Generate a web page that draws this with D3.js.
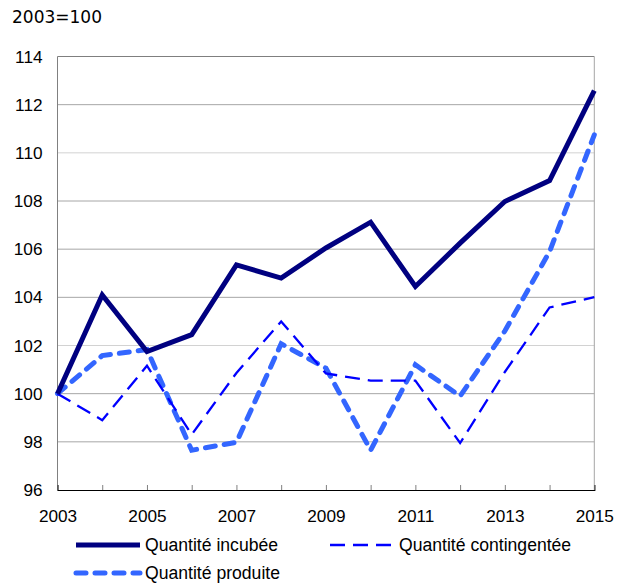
<!DOCTYPE html>
<html><head><meta charset="utf-8">
<script src="https://cdn.jsdelivr.net/npm/d3@7"></script>
<style>body{margin:0;background:#fff}svg{display:block}</style>
</head><body>
<script>
const years = [2003,2004,2005,2006,2007,2008,2009,2010,2011,2012,2013,2014,2015];
const incubee = [100,104.1,101.75,102.45,105.35,104.8,106.05,107.12,104.45,106.25,107.98,108.85,112.58];
const contingentee = [100,98.9,101.16,98.3,100.86,103.0,100.84,100.54,100.54,97.95,100.9,103.58,104.01];
const produite = [100,101.58,101.83,97.65,97.98,102.07,101.06,97.65,101.2,99.9,102.6,105.9,110.75];
const yTicks = [96,98,100,102,104,106,108,110,112,114];
const xTickLabels = [2003,2005,2007,2009,2011,2013,2015];
const seriesNames = ["Quantité incubée","Quantité contingentée","Quantité produite"];
const unitLabel = "2003=100";

const W=624,H=584;
const svg=d3.select("body").append("svg").attr("width",W).attr("height",H);
const x=d3.scaleLinear().domain([2003,2015]).range([57.5,594.3]);
const y=d3.scaleLinear().domain([96,114]).range([490,56.5]);

const lightGrid = new Set([102,110]);
svg.append("g").selectAll("line").data(yTicks.filter(v=>v>96&&v<114)).join("line")
  .attr("x1",x(2003)).attr("x2",x(2015)).attr("y1",d=>y(d)).attr("y2",d=>y(d))
  .attr("stroke",d=>lightGrid.has(d)?"#d2d2d2":"#a6a6a6").attr("stroke-width",1);
svg.append("line").attr("x1",x(2003)).attr("x2",x(2015)).attr("y1",y(114)).attr("y2",y(114)).attr("stroke","#7f7f7f");
svg.append("line").attr("x1",x(2015)).attr("x2",x(2015)).attr("y1",y(114)).attr("y2",y(96)).attr("stroke","#a6a6a6");
svg.append("line").attr("x1",x(2003)).attr("x2",x(2003)).attr("y1",y(114)).attr("y2",y(96)).attr("stroke","#808080");

const yAxis=d3.axisLeft(y).tickValues(yTicks).tickSize(0).tickPadding(15);
const gy=svg.append("g").attr("transform",`translate(${x(2003)},0)`).call(yAxis);
gy.select(".domain").remove();
gy.selectAll("text").attr("font-family","'Liberation Sans', Arial, sans-serif").attr("font-size",17.2).attr("fill","#000");

const xAxis=d3.axisBottom(x).tickValues(years).tickSize(-5).tickPadding(20)
  .tickFormat(d=>xTickLabels.includes(d)?String(d):"");
const gx=svg.append("g").attr("transform",`translate(0,${y(96)})`).call(xAxis);
gx.select(".domain").attr("stroke","#000").attr("stroke-width",1.2);
gx.selectAll(".tick line").attr("stroke","#808080");
gx.selectAll("text").attr("font-family","'Liberation Sans', Arial, sans-serif").attr("font-size",17.2).attr("fill","#000");

svg.append("text").attr("x",12).attr("y",23).text(unitLabel)
  .attr("font-family","'DejaVu Sans', Verdana, sans-serif").attr("font-size",17).attr("fill","#000");

const styles=[
  {data:incubee,color:"#000080",w:5,dash:null,cap:"butt"},
  {data:contingentee,color:"#0000ff",w:2.3,dash:"15,8",cap:"butt"},
  {data:produite,color:"#3366ff",w:5,dash:"10,9",cap:"round"}
];
const line=d3.line().x((d,i)=>x(years[i])).y(d=>y(d));
[2,1,0].forEach(k=>{
  const s=styles[k];
  svg.append("path").datum(s.data).attr("d",line).attr("fill","none")
    .attr("stroke",s.color).attr("stroke-width",s.w).attr("stroke-linejoin","miter")
    .attr("stroke-linecap",s.cap).attr("stroke-dasharray",s.dash);
});

const leg=[{k:0,x:76,y:545},{k:1,x:330,y:545},{k:2,x:76,y:573}];
leg.forEach(l=>{
  const s=styles[l.k];
  svg.append("line").attr("x1",l.x).attr("x2",l.x+64).attr("y1",l.y).attr("y2",l.y)
    .attr("stroke",s.color).attr("stroke-width",s.w).attr("stroke-dasharray",s.dash).attr("stroke-linecap",s.cap);
  svg.append("text").attr("x",l.x+69).attr("y",l.y+6).text(seriesNames[l.k])
    .attr("font-family","'Liberation Sans', Arial, sans-serif").attr("font-size",17.6).attr("fill","#000");
});
</script>
</body></html>
